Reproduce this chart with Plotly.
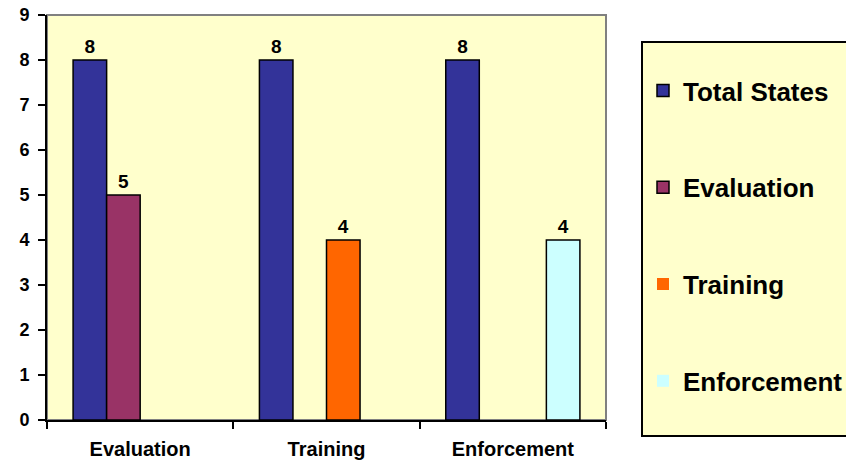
import plotly.graph_objects as go

categories = ["Evaluation", "Training", "Enforcement"]
series_names = ["Total States", "Evaluation", "Training", "Enforcement"]
total_states = [8, 8, 8]
evaluation = [5, 0, 0]
training = [0, 4, 0]
enforcement = [0, 0, 4]
y_ticks = [0, 1, 2, 3, 4, 5, 6, 7, 8, 9]

colors = ["#333399", "#993366", "#FF6600", "#CCFFFF"]
values = [total_states, evaluation, training, enforcement]

FONT = "Arial, 'Liberation Sans', sans-serif"

W, H = 846, 466
PL, PR, PT, PB = 47, 606, 15, 420  # plot area in page pixels
pw, ph = PR - PL, PB - PT


def px(x):
    return (x - PL) / pw


def py(y):
    return (PB - y) / ph


fig = go.Figure()
for name, vals, col in zip(series_names, values, colors):
    fig.add_trace(go.Bar(
        x=categories, y=vals, name=name, legendgroup=name,
        marker=dict(color=col, line=dict(color="black", width=[1.5 if v else 0 for v in vals])),
        text=[str(v) if v else "" for v in vals],
        textposition="outside", cliponaxis=False, constraintext="none",
        textfont=dict(family=FONT, size=19, color="black", weight="bold"),
    ))

# plot-area border (gray top/right) and legend box
fig.add_shape(type="rect", xref="paper", yref="paper", x0=0, x1=1, y0=0, y1=1,
              line=dict(color="#808080", width=2), layer="below")
fig.add_shape(type="rect", xref="paper", yref="paper",
              x0=px(642), x1=px(852), y0=py(436), y1=py(42),
              line=dict(color="black", width=2), fillcolor="#FFFFCC", layer="below")

fig.update_layout(
    width=W, height=H,
    margin=dict(l=PL, r=W - PR, t=PT, b=H - PB, autoexpand=False),
    paper_bgcolor="white", plot_bgcolor="#FFFFCC",
    barmode="group", bargap=0.28, bargroupgap=0,
    font=dict(family=FONT, color="black"),
    showlegend=True,
    legend=dict(
        x=px(643), xanchor="left",
        y=py(67), yanchor="top",
        bgcolor="rgba(0,0,0,0)", borderwidth=0,
        traceorder="grouped", tracegroupgap=60,
        font=dict(family=FONT, size=26, color="black", weight="bold"),
    ),
    xaxis=dict(
        showline=True, linecolor="black", linewidth=2,
        ticks="outside", tickson="boundaries", ticklen=7, tickcolor="black", tickwidth=2,
        tickfont=dict(family=FONT, size=20, color="black", weight="bold"),
        ticklabelstandoff=10, showgrid=False, zeroline=False,
    ),
    yaxis=dict(
        range=[0, 9], tickvals=y_ticks,
        showline=True, linecolor="black", linewidth=2,
        ticks="outside", ticklen=7, tickcolor="black", tickwidth=2,
        tickfont=dict(family=FONT, size=18, color="black", weight="bold"),
        ticklabelstandoff=5, ticklabeloverflow="allow",
        showgrid=False, zeroline=False,
    ),
)

fig.write_html("out.html", config={"displayModeBar": False},
               post_script="document.body.style.margin='0';")
